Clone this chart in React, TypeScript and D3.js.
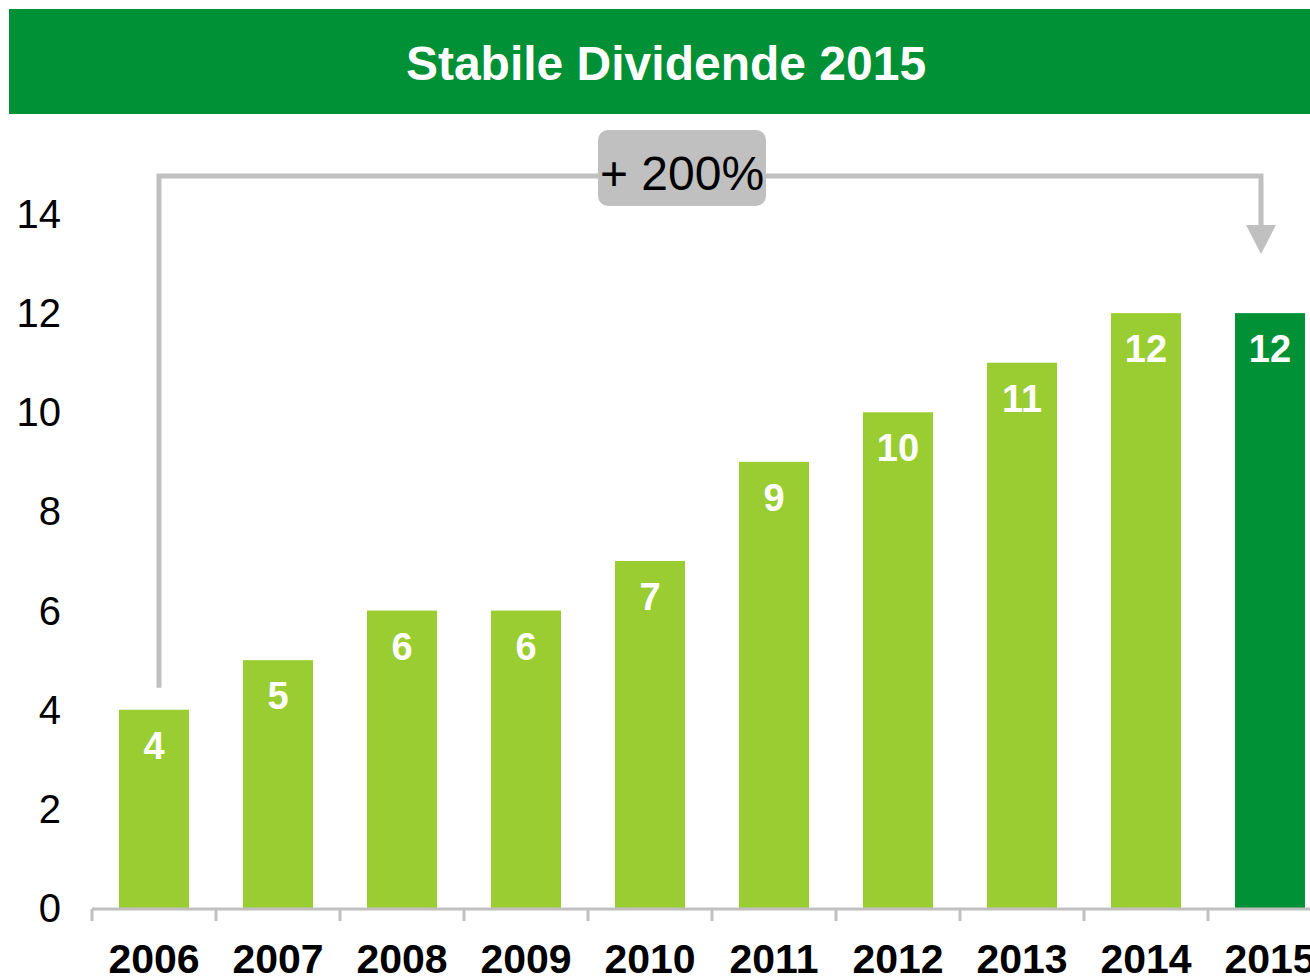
import * as d3 from "d3";
import { useEffect, useRef } from "react";

const YEARS = ["2006", "2007", "2008", "2009", "2010", "2011", "2012", "2013", "2014", "2015"];
const DIVIDENDS = [4, 5, 6, 6, 7, 9, 10, 11, 12, 12];
const Y_TICKS = [0, 2, 4, 6, 8, 10, 12, 14];
const TITLE = "Stabile Dividende 2015";
const GROWTH_LABEL = "+ 200%";

const WIDTH = 1310;
const HEIGHT = 976;
const LIGHT = "#9ACD32";
const DARK = "#009035";
const GREY = "#C0C0C0";
const FONT = "'Liberation Sans', Arial, sans-serif";

const App = () => {
  const svgRef = useRef<SVGSVGElement>(null);

  useEffect(() => {
    if (!svgRef.current) return;
    const svg = d3.select(svgRef.current);
    svg.selectAll("*").remove();

    // title bar
    svg.append("rect").attr("x", 9).attr("y", 9).attr("width", WIDTH).attr("height", 105).attr("fill", DARK);
    svg
      .append("text")
      .attr("x", 666)
      .attr("y", 80)
      .attr("text-anchor", "middle")
      .attr("font-family", FONT)
      .attr("font-weight", "bold")
      .attr("font-size", 48)
      .attr("fill", "#fff")
      .text(TITLE);

    const x = d3.scaleBand().domain(YEARS).range([92, 92 + 124 * YEARS.length]).paddingInner(0.435).paddingOuter(0.2175);
    const y = d3.scaleLinear().domain([0, 14]).range([908, 214]);

    // y labels
    svg
      .append("g")
      .selectAll("text")
      .data(Y_TICKS)
      .join("text")
      .attr("x", 61)
      .attr("y", (d) => y(d))
      .attr("dy", "0.35em")
      .attr("text-anchor", "end")
      .attr("font-family", FONT)
      .attr("font-size", 40)
      .attr("fill", "#000")
      .text((d) => d);

    // bars
    svg
      .append("g")
      .selectAll("rect")
      .data(DIVIDENDS)
      .join("rect")
      .attr("x", (_, i) => x(YEARS[i])!)
      .attr("y", (d) => y(d))
      .attr("width", x.bandwidth())
      .attr("height", (d) => y(0) - y(d))
      .attr("fill", (_, i) => (i === YEARS.length - 1 ? DARK : LIGHT));

    svg
      .append("g")
      .selectAll("text")
      .data(DIVIDENDS)
      .join("text")
      .attr("x", (_, i) => x(YEARS[i])! + x.bandwidth() / 2)
      .attr("y", (d) => y(d) + 49)
      .attr("text-anchor", "middle")
      .attr("font-family", FONT)
      .attr("font-weight", "bold")
      .attr("font-size", 38)
      .attr("fill", "#fff")
      .text((d) => d);

    // x axis
    const step = x.step();
    const axis = svg.append("g");
    axis.append("line").attr("x1", 92).attr("x2", WIDTH + 10).attr("y1", 909).attr("y2", 909).attr("stroke", GREY).attr("stroke-width", 3);
    axis
      .selectAll("line.tick")
      .data(YEARS)
      .join("line")
      .attr("class", "tick")
      .attr("x1", (d) => x(d)! - step * 0.2175)
      .attr("x2", (d) => x(d)! - step * 0.2175)
      .attr("y1", 909)
      .attr("y2", 921)
      .attr("stroke", GREY)
      .attr("stroke-width", 3);
    axis
      .selectAll("text")
      .data(YEARS)
      .join("text")
      .attr("x", (d) => x(d)! + x.bandwidth() / 2)
      .attr("y", 973)
      .attr("text-anchor", "middle")
      .attr("font-family", FONT)
      .attr("font-weight", "bold")
      .attr("font-size", 41)
      .attr("fill", "#000")
      .text((d) => d);

    // growth bracket
    const first = YEARS[0];
    const last = YEARS[YEARS.length - 1];
    const x0 = x(first)! + x.bandwidth() / 2 + 5;
    const x1 = x(last)! + x.bandwidth() / 2 - 9;
    const topY = 176;
    svg
      .append("path")
      .attr("d", `M${x0},${y(DIVIDENDS[0]) - 22}V${topY}H${x1}V${228}`)
      .attr("fill", "none")
      .attr("stroke", GREY)
      .attr("stroke-width", 5);
    svg
      .append("path")
      .attr("d", `M${x1 - 15},${225}L${x1 + 15},${225}L${x1},${254}Z`)
      .attr("fill", GREY);

    svg.append("rect").attr("x", 598).attr("y", 130).attr("width", 168).attr("height", 76).attr("rx", 10).attr("fill", GREY);
    svg
      .append("text")
      .attr("x", 682)
      .attr("y", 190)
      .attr("text-anchor", "middle")
      .attr("font-family", FONT)
      .attr("font-size", 48)
      .attr("fill", "#000")
      .text(GROWTH_LABEL);
  }, []);

  return (
    <div style={{ position: "absolute", left: 0, top: 0, width: WIDTH, height: HEIGHT, overflow: "hidden", background: "#fff" }}>
      <svg ref={svgRef} width={WIDTH} height={HEIGHT} style={{ display: "block" }} />
    </div>
  );
};

export default App;
